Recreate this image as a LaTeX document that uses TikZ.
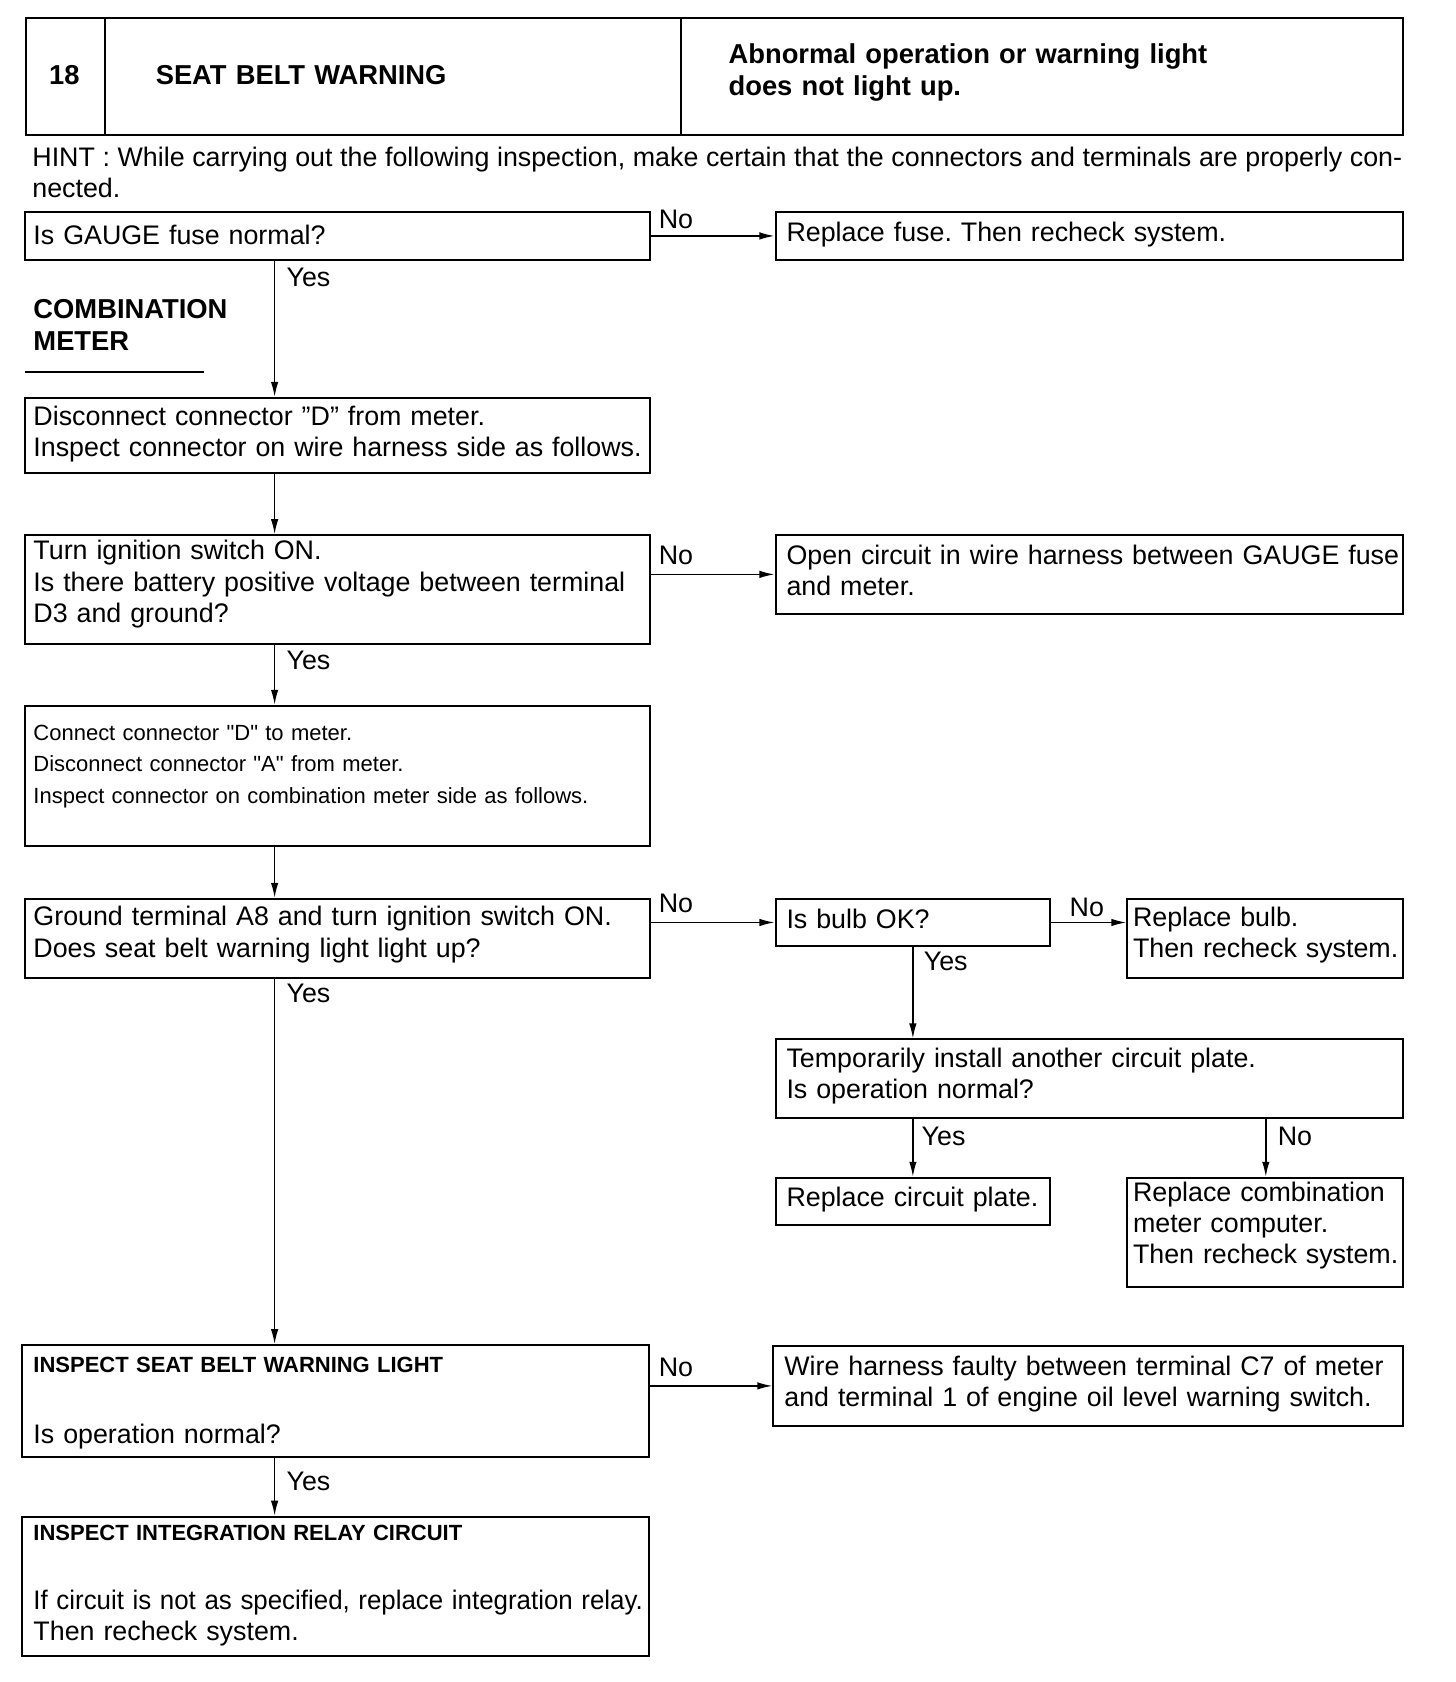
\documentclass[tikz,border=0pt]{standalone}
\usepackage{fontspec}
\setmainfont{Liberation Sans}
\usetikzlibrary{arrows.meta}
\frenchspacing
\begin{document}
\frenchspacing
\begin{tikzpicture}[x=1pt,y=-1pt,
  box/.style={draw, line width=1.9pt, inner sep=0pt, anchor=north west},
  txt/.style={inner sep=0pt, anchor=base west, font=\fontsize{25}{29}\selectfont, text width=640pt, align=left},
  stxt/.style={inner sep=0pt, anchor=base west, font=\fontsize{20.5}{29.5}\selectfont, text width=560pt, align=left},
  sbtxt/.style={inner sep=0pt, anchor=base west, font=\fontsize{20.5}{29.5}\selectfont\bfseries, text width=560pt, align=left},
  btxt/.style={inner sep=0pt, anchor=base west, font=\fontsize{25.5}{29.5}\selectfont\bfseries, text width=640pt, align=left},
  lbl/.style={inner sep=0pt, anchor=base west, font=\fontsize{25}{29}\selectfont},
  arr/.style={line width=1.4pt, -{Latex[length=14pt,width=7pt]}}
]
\useasboundingbox (0,0) rectangle (1357,1568);
\coordinate (xa) at (256,0);
\coordinate (xb) at (851,0);
\coordinate (xc) at (1180,0);

% header
\node[box, minimum width=74pt, minimum height=109pt] (h1) at (23,16) {};
\node[box, minimum width=537pt, minimum height=109pt] (h2) at (97,16) {};
\node[box, minimum width=673pt, minimum height=109pt] (h3) at (634,16) {};
\node[btxt, text width=, anchor=center] (h1t) at (60,70) {18};
\node[btxt] (h2t) at (145,79) {SEAT BELT WARNING};
\node[btxt, font=\fontsize{25.5}{30}\selectfont\bfseries] (h3t) at (679,59) {Abnormal operation or warning light\\does not light up.};

% hint
\node[txt, text width=1277pt, align=justify] (hint) at (30,155) {HINT : While carrying out the following inspection, make certain that the connectors and terminals are properly con-\linebreak nected.};

% boxes
\node[box, minimum width=583pt, minimum height=44pt] (b1) at (22,197) {};
\node[txt] (b1t) at (31,228) {Is GAUGE fuse normal?};
\node[box, minimum width=585pt, minimum height=44pt] (r1) at (722,197) {};
\node[txt] (r1t) at (733,225) {Replace fuse. Then recheck system.};

\node[btxt] (cm) at (31,297) {COMBINATION\\METER};
\draw[line width=2pt] (23,347) -- (190,347);

\node[box, minimum width=583pt, minimum height=70pt] (b2) at (22,370) {};
\node[txt] (b2t) at (31,397) {Disconnect connector ”D” from meter.\\Inspect connector on wire harness side as follows.};

\node[box, minimum width=583pt, minimum height=101pt] (b3) at (22,498) {};
\node[txt] (b3t) at (31,522) {Turn ignition switch ON.\\Is there battery positive voltage between terminal\\D3 and ground?};
\node[box, minimum width=585pt, minimum height=73pt] (r3) at (722,498) {};
\node[txt] (r3t) at (733,526) {Open circuit in wire harness between GAUGE fuse\\and meter.};

\node[box, minimum width=583pt, minimum height=131pt] (b4) at (22,657) {};
\node[stxt] (b4t) at (31,690) {Connect connector \textquotedbl D\textquotedbl{} to meter.\\Disconnect connector \textquotedbl A\textquotedbl{} from meter.\\Inspect connector on combination meter side as follows.};

\node[box, minimum width=583pt, minimum height=74pt] (b5) at (22,837) {};
\node[txt, font=\fontsize{25}{30}\selectfont] (b5t) at (31,863) {Ground terminal A8 and turn ignition switch ON.\\Does seat belt warning light light up?};

\node[box, minimum width=256pt, minimum height=44pt] (bulb) at (722,837) {};
\node[txt] (bulbt) at (733,866) {Is bulb OK?};
\node[box, minimum width=257pt, minimum height=74pt] (rb) at (1050,837) {};
\node[txt] (rbt) at (1056,864) {Replace bulb.\\Then recheck system.};

\node[box, minimum width=585pt, minimum height=73pt] (tp) at (722,968) {};
\node[txt] (tpt) at (733,995) {Temporarily install another circuit plate.\\Is operation normal?};

\node[box, minimum width=256pt, minimum height=44pt] (rcp) at (722,1097) {};
\node[txt] (rcpt) at (733,1125) {Replace circuit plate.};
\node[box, minimum width=257pt, minimum height=102pt] (rcm) at (1050,1097) {};
\node[txt] (rcmt) at (1056,1120) {Replace combination\\meter computer.\\Then recheck system.};

\node[box, minimum width=584pt, minimum height=104pt] (b6) at (20,1253) {};
\node[sbtxt] (b6a) at (31,1279) {INSPECT SEAT BELT WARNING LIGHT};
\node[txt] (b6b) at (31,1346) {Is operation normal?};
\node[box, minimum width=587pt, minimum height=74pt] (r6) at (720,1254) {};
\node[txt] (r6t) at (731,1282) {Wire harness faulty between terminal C7 of meter\\and terminal 1 of engine oil level warning switch.};

\node[box, minimum width=584pt, minimum height=130pt] (b7) at (20,1413) {};
\node[sbtxt] (b7a) at (31,1436) {INSPECT INTEGRATION RELAY CIRCUIT};
\node[txt] (b7b) at (31,1500) {\scalebox{0.965}[1]{If circuit is not as specified, replace integration relay.}\\Then recheck system.};

% connectors
\draw[arr] (b1.east) -- (r1.west);
\draw[arr] (b1.south -| xa) -- (b2.north -| xa);
\draw[arr] (b2.south -| xa) -- (b3.north -| xa);
\draw[arr] (r3.west -| b3.east) -- (r3.west);
\draw[arr] (b3.south -| xa) -- (b4.north -| xa);
\draw[arr] (b4.south -| xa) -- (b5.north -| xa);
\draw[arr] (bulb.west -| b5.east) -- (bulb.west);
\draw[arr] (bulb.east) -- (bulb.east -| rb.west);
\draw[arr] (bulb.south -| xb) -- (tp.north -| xb);
\draw[arr] (tp.south -| xb) -- (rcp.north -| xb);
\draw[arr] (tp.south -| xc) -- (rcm.north -| xc);
\draw[arr] (b5.south -| xa) -- (b6.north -| xa);
\draw[arr] (r6.west -| b6.east) -- (r6.west);
\draw[arr] (b6.south -| xa) -- (b7.north -| xa);

% labels
\node[lbl] (n1) at (614,213) {No};
\node[lbl] (y1) at (267,267) {Yes};
\node[lbl] (n3) at (614,526) {No};
\node[lbl] (y3) at (267,624) {Yes};
\node[lbl] (n5) at (614,851) {No};
\node[lbl] (y5) at (267,935) {Yes};
\node[lbl] (nb) at (997,854) {No};
\node[lbl] (yb) at (861,905) {Yes};
\node[lbl] (yt) at (859,1068) {Yes};
\node[lbl] (nt) at (1191,1068) {No};
\node[lbl] (n6) at (614,1283) {No};
\node[lbl] (y6) at (267,1389) {Yes};
\end{tikzpicture}
\end{document}
